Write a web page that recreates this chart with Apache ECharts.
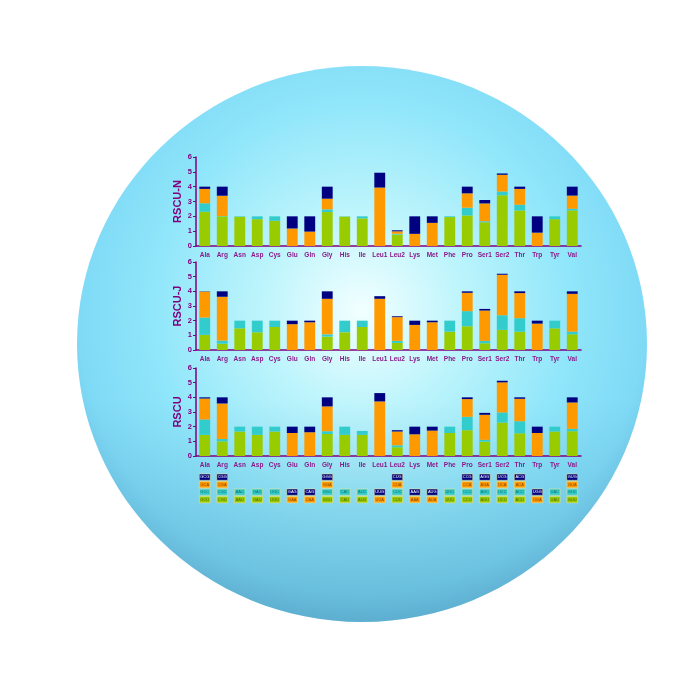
<!DOCTYPE html>
<html>
<head>
<meta charset="utf-8">
<title>RSCU</title>
<script src="https://cdn.jsdelivr.net/npm/echarts@6/dist/echarts.min.js"></script>
<style>
  html, body { margin: 0; padding: 0; background: #fff; }
  #main { width: 700px; height: 700px; }
</style>
</head>
<body>
<div id="main"></div>
<script>
// amino acids on the x axis
var aminoAcids = ['Ala', 'Arg', 'Asn', 'Asp', 'Cys', 'Glu', 'Gln', 'Gly', 'His', 'Ile', 'Leu1',
  'Leu2', 'Lys', 'Met', 'Phe', 'Pro', 'Ser1', 'Ser2', 'Thr', 'Trp', 'Tyr', 'Val']

// RSCU-N : stacked by codon (ends in U, C, A, G)
var nU = [2.31, 2.0, 1.97, 1.81, 1.7, 0, 0, 2.29, 1.98, 1.86, 0, 0.77, 0, 0, 1.95, 2.06, 1.6, 3.42, 2.4, 0, 1.81, 2.4]
var nC = [0.57, 0.02, 0.03, 0.19, 0.3, 0, 0, 0.18, 0.02, 0.14, 0, 0.05, 0, 0, 0.05, 0.52, 0.07, 0.25, 0.38, 0, 0.19, 0.11]
var nA = [0.97, 1.37, 0, 0, 0, 1.18, 0.97, 0.72, 0, 0, 3.94, 0.17, 0.82, 1.56, 0, 0.97, 1.2, 1.13, 1.07, 0.9, 0, 0.89]
var nG = [0.15, 0.61, 0, 0, 0, 0.82, 1.03, 0.81, 0, 0, 1.0, 0.07, 1.18, 0.44, 0, 0.45, 0.23, 0.09, 0.15, 1.1, 0, 0.6]

// RSCU-J
var jU = [1.03, 0.43, 1.48, 1.21, 1.57, 0, 0, 0.91, 1.21, 1.57, 0, 0.48, 0, 0, 1.25, 1.62, 0.46, 1.37, 1.25, 0, 1.48, 1.07]
var jC = [1.18, 0.21, 0.52, 0.79, 0.43, 0, 0, 0.16, 0.79, 0.43, 0, 0.14, 0, 0, 0.75, 1.03, 0.16, 1.0, 0.92, 0, 0.52, 0.18]
var jA = [1.77, 2.99, 0, 0, 0, 1.76, 1.89, 2.42, 0, 0, 3.49, 1.62, 1.71, 1.89, 0, 1.25, 2.07, 2.76, 1.71, 1.8, 0, 2.58]
var jG = [0.02, 0.37, 0, 0, 0, 0.24, 0.11, 0.51, 0, 0, 0.18, 0.06, 0.29, 0.11, 0, 0.1, 0.11, 0.07, 0.12, 0.2, 0, 0.17]

// RSCU
var tU = [1.44, 1.0, 1.67, 1.44, 1.67, 0, 0, 1.5, 1.44, 1.44, 0, 0.6, 0, 0, 1.57, 1.76, 0.98, 2.28, 1.55, 0, 1.67, 1.69]
var tC = [1.05, 0.16, 0.33, 0.56, 0.33, 0, 0, 0.19, 0.56, 0.27, 0, 0.13, 0, 0, 0.43, 0.91, 0.12, 0.69, 0.82, 0, 0.33, 0.16]
var tA = [1.43, 2.42, 0, 0, 0, 1.57, 1.62, 1.69, 0, 0, 3.72, 0.94, 1.48, 1.73, 0, 1.21, 1.71, 2.05, 1.53, 1.57, 0, 1.8]
var tG = [0.08, 0.42, 0, 0, 0, 0.43, 0.38, 0.62, 0, 0, 0.57, 0.09, 0.52, 0.27, 0, 0.12, 0.13, 0.11, 0.1, 0.43, 0, 0.35]

// codon table under the charts
var codonU = ['GCU', 'CGU', 'AAU', 'GAU', 'UGU', '', '', 'GGU', 'CAU', 'AUU', '', 'CUU', '', '', 'UUU', 'CCU', 'AGU', 'UCU', 'ACU', '', 'UAU', 'GUU']
var codonC = ['GCC', 'CGC', 'AAC', 'GAC', 'UGC', '', '', 'GGC', 'CAC', 'AUC', '', 'CUC', '', '', 'UUC', 'CCC', 'AGC', 'UCC', 'ACC', '', 'UAC', 'GUC']
var codonA = ['GCA', 'CGA', '', '', '', 'GAA', 'CAA', 'GGA', '', '', 'UUA', 'CUA', 'AAA', 'AUA', '', 'CCA', 'AGA', 'UCA', 'ACA', 'UGA', '', 'GUA']
var codonG = ['GCG', 'CGG', '', '', '', 'GAG', 'CAG', 'GGG', '', '', 'UUG', 'CUG', 'AAG', 'AUG', '', 'CCG', 'AGG', 'UCG', 'ACG', 'UGG', '', 'GUG']

var yTicks = [0, 1, 2, 3, 4, 5, 6]

var colors = ['#99cc00', '#33cccc', '#ff9900', '#000080']
var textColors = ['#556600', '#1a6f6f', '#8a4a00', '#ffffff']
var purple = '#800080'

var mychart = echarts.init(document.getElementById('main'))

var panels = [
  { name: 'RSCU-N', top: 157, height: 89, data: [nU, nC, nA, nG] },
  { name: 'RSCU-J', top: 262, height: 88, data: [jU, jC, jA, jG] },
  { name: 'RSCU', top: 368, height: 88, data: [tU, tC, tA, tG] },
]

var grids = []
var xAxes = []
var yAxes = []
var series = []

panels.forEach(function (p, k) {
  grids.push({ left: 196, right: 119, top: p.top, height: p.height })
  xAxes.push({
    type: 'category',
    gridIndex: k,
    data: aminoAcids,
    axisLine: { lineStyle: { color: purple, width: 1.5 } },
    axisTick: { show: false },
    axisLabel: { interval: 0, color: '#8a1a8a', fontSize: 6.5, fontWeight: 'bold', margin: 6 },
  })
  yAxes.push({
    type: 'value',
    gridIndex: k,
    min: yTicks[0],
    max: yTicks[yTicks.length - 1],
    interval: 1,
    name: p.name,
    nameLocation: 'middle',
    nameGap: 13,
    nameMoveOverlap: false,
    nameTextStyle: { color: purple, fontSize: 11, fontWeight: 'bold' },
    axisLine: { show: true, lineStyle: { color: purple, width: 1.5 } },
    axisTick: { show: true, length: 3, lineStyle: { color: purple } },
    axisLabel: { color: purple, fontSize: 7.5, fontWeight: 'bold', margin: 4 },
    splitLine: { show: false },
  })
  p.data.forEach(function (arr, s) {
    series.push({
      type: 'bar',
      xAxisIndex: k,
      yAxisIndex: k,
      stack: 'p' + k,
      barWidth: '62%',
      data: arr,
      itemStyle: { color: colors[s] },
      silent: true,
    })
  })
})

// codon table: one cell per codon, stacked from the bottom row
var codonSlots = [codonU, codonC, codonA, codonG]
var cells = []
aminoAcids.forEach(function (aa, i) {
  var row = 0
  codonSlots.forEach(function (slot, s) {
    if (slot[i]) {
      cells.push([i, row, s, slot[i]])
      row++
    }
  })
})

grids.push({ left: 196, right: 119, top: 474, height: 30 })
xAxes.push({ type: 'category', gridIndex: 3, data: aminoAcids, show: false })
yAxes.push({ type: 'value', gridIndex: 3, min: 0, max: 4, show: false })
series.push({
  type: 'custom',
  xAxisIndex: 3,
  yAxisIndex: 3,
  data: cells,
  silent: true,
  renderItem: function (params, api) {
    var lo = api.coord([api.value(0), api.value(1)])
    var hi = api.coord([api.value(0), api.value(1) + 1])
    var band = api.size([1, 0])[0]
    var w = band * 0.62
    var h = lo[1] - hi[1] - 1.2
    var s = api.value(2)
    return {
      type: 'group',
      children: [
        {
          type: 'rect',
          shape: { x: lo[0] - w / 2, y: hi[1], width: w, height: h },
          style: { fill: colors[s], stroke: '#ffe680', lineWidth: 0.5 },
        },
        {
          type: 'text',
          style: {
            text: api.value(3),
            x: lo[0],
            y: hi[1] + h / 2,
            align: 'center',
            verticalAlign: 'middle',
            fill: textColors[s],
            font: '4px "Liberation Sans"',
          },
        },
      ],
    }
  },
})

var option = {
  textStyle: { fontFamily: 'Liberation Sans, Arial, sans-serif' },
  animation: false,
  graphic: [
    {
      type: 'ellipse',
      silent: true,
      z: -10,
      shape: { cx: 362, cy: 344, rx: 285, ry: 278 },
      style: {
        fill: {
          type: 'radial',
          x: 0.5,
          y: 0.44,
          r: 0.58,
          colorStops: [
            { offset: 0, color: '#f2ffff' },
            { offset: 0.3, color: '#bff5fc' },
            { offset: 0.65, color: '#90e6fa' },
            { offset: 0.88, color: '#7fdaf6' },
            { offset: 1, color: '#70c4e4' },
          ],
        },
      },
    },
    {
      type: 'ellipse',
      silent: true,
      z: -9,
      shape: { cx: 362, cy: 344, rx: 285, ry: 278 },
      style: {
        fill: {
          type: 'linear',
          x: 0,
          y: 0,
          x2: 0,
          y2: 1,
          colorStops: [
            { offset: 0, color: 'rgba(60,130,170,0)' },
            { offset: 0.6, color: 'rgba(60,130,170,0)' },
            { offset: 1, color: 'rgba(40,110,150,0.3)' },
          ],
        },
      },
    },
  ],
  grid: grids,
  xAxis: xAxes,
  yAxis: yAxes,
  series: series,
}

mychart.setOption(option)
window.addEventListener('resize', function () {
  mychart.resize()
})
</script>
</body>
</html>
